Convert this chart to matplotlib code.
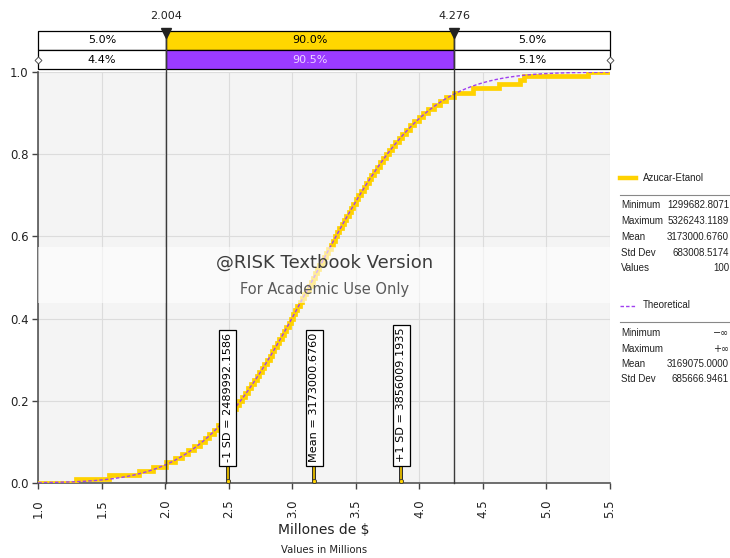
import math
import numpy as np
import matplotlib
matplotlib.use("Agg")
import matplotlib.pyplot as plt
from matplotlib.patches import Rectangle
from matplotlib.lines import Line2D

plt.rcParams['font.family'] = ['DejaVu Sans']

# ---------------- data ----------------
values = [1.300, 1.560, 1.790, 1.900, 2.004, 2.074, 2.131, 2.182, 2.229, 2.271,
          2.310, 2.347, 2.381, 2.413, 2.444, 2.474, 2.502, 2.529, 2.555, 2.580,
          2.605, 2.629, 2.652, 2.675, 2.697, 2.718, 2.739, 2.760, 2.780, 2.800,
          2.820, 2.839, 2.859, 2.878, 2.896, 2.915, 2.933, 2.951, 2.970, 2.988,
          3.005, 3.023, 3.040, 3.057, 3.075, 3.092, 3.110, 3.127, 3.144, 3.161,
          3.179, 3.196, 3.213, 3.230, 3.248, 3.265, 3.283, 3.300, 3.317, 3.335,
          3.352, 3.370, 3.389, 3.407, 3.425, 3.444, 3.462, 3.481, 3.501, 3.520,
          3.540, 3.560, 3.580, 3.601, 3.622, 3.643, 3.665, 3.688, 3.711, 3.735,
          3.760, 3.785, 3.811, 3.838, 3.866, 3.896, 3.927, 3.959, 3.993, 4.030,
          4.069, 4.111, 4.158, 4.209, 4.276, 4.420, 4.630, 4.790, 4.820, 5.326]
theo_mean = 3.169075
theo_std = 0.6856669461
x_ticks = [1.0, 1.5, 2.0, 2.5, 3.0, 3.5, 4.0, 4.5, 5.0, 5.5]
y_ticks = [0.0, 0.2, 0.4, 0.6, 0.8, 1.0]
pct_left = 2.004
pct_right = 4.276
row1_labels = ["5.0%", "90.0%", "5.0%"]
row2_labels = ["4.4%", "90.5%", "5.1%"]
sd_pos = [2.4899921586, 3.1730006760, 3.8560091935]
sd_labels = ["-1 SD = 2489992.1586", "Mean = 3173000.6760", "+1 SD = 3856009.1935"]
sim_name = "Azucar-Etanol"
sim_stats = [("Minimum", "1299682.8071"), ("Maximum", "5326243.1189"),
             ("Mean", "3173000.6760"), ("Std Dev", "683008.5174"), ("Values", "100")]
theo_name = "Theoretical"
theo_stats = [("Minimum", "\u2212\u221e"), ("Maximum", "+\u221e"),
              ("Mean", "3169075.0000"), ("Std Dev", "685666.9461")]

YELLOW = '#FFD200'
PURPLE = '#9B3BFF'
DARK = '#3a3a3a'
LEG_FONT = ['Liberation Sans', 'DejaVu Sans']
LEG_SIZE = 7.0

W, H = 730, 558
fig = plt.figure(figsize=(W / 100, H / 100), dpi=100)
ax = fig.add_axes([38.3 / W, 1 - 483 / H, (610 - 38.3) / W, (483 - 72) / H])
ax.set_facecolor('#F4F4F4')
ax.set_xlim(1.0, 5.5)
ax.set_ylim(0.0, 1.0)

ax.set_xticks(x_ticks)
ax.set_xticklabels([f"{v:.1f}" for v in x_ticks], rotation=90, fontsize=8.5, color='#222')
ax.set_yticks(y_ticks)
ax.set_yticklabels([f"{v:.1f}" for v in y_ticks], fontsize=8.5, color='#222')
ax.tick_params(axis='both', length=4, width=1, color='#444')
ax.tick_params(axis='x', pad=8)
ax.tick_params(axis='y', pad=3)
ax.grid(True, color='#DCDCDC', linewidth=0.8)
ax.set_axisbelow(True)
for s in ['top', 'right']:
    ax.spines[s].set_visible(False)
for s in ['left', 'bottom']:
    ax.spines[s].set_color('#555555')
    ax.spines[s].set_linewidth(1.2)

# empirical CDF
n = len(values)
xs = [1.0] + list(values) + [5.5]
ys = [0.0] + [(i + 1) / n for i in range(n)] + [1.0]
ax.step(xs, ys, where='post', color=YELLOW, linewidth=3.4, zorder=3, solid_joinstyle='miter')

# theoretical normal CDF
xg = np.linspace(1.0, 5.5, 500)
yg = [0.5 * (1 + math.erf((x - theo_mean) / (theo_std * math.sqrt(2)))) for x in xg]
ax.plot(xg, yg, color='#A040F0', linewidth=1.0, linestyle=(0, (2.5, 1.5)), zorder=4)

# watermark band
ax.add_patch(Rectangle((0, 0.438), 1, 0.136, transform=ax.transAxes,
                       facecolor='white', alpha=0.6, edgecolor='none', zorder=5))
ax.text(0.5, 0.535, "@RISK Textbook Version", transform=ax.transAxes, ha='center',
        va='center', fontsize=13, color='#3c3c3c', zorder=6)
ax.text(0.5, 0.470, "For Academic Use Only", transform=ax.transAxes, ha='center',
        va='center', fontsize=10.5, color='#5a5a5a', zorder=6)

# SD markers
for xv, lab in zip(sd_pos, sd_labels):
    ax.plot([xv, xv], [0.0, 0.042], color='black', linewidth=2.6, zorder=7,
            solid_capstyle='butt')
    ax.plot([xv, xv], [0.0, 0.042], color=YELLOW, linewidth=1.2, zorder=8,
            solid_capstyle='butt')
    ax.plot([xv], [0.006], marker='o', markersize=3, color=YELLOW,
            markeredgecolor='#333', markeredgewidth=0.6, zorder=9, clip_on=False)
    ax.text(xv, 0.05, lab, rotation=90, ha='center', va='bottom', fontsize=8.1,
            color='black', zorder=9,
            bbox=dict(boxstyle='square,pad=0.3', facecolor='white',
                      edgecolor='black', linewidth=0.9))

# top percentile strip
tr = ax.get_xaxis_transform()
bounds = [1.0, pct_left, pct_right, 5.5]
r1 = (1.0535, 1.0998)
r2 = (1.0073, 1.0535)
row1_fc = ['white', '#FFD700', 'white']
row2_fc = ['white', PURPLE, 'white']
row2_tc = ['black', '#EBD3FF', 'black']
for i in range(3):
    x0, x1 = bounds[i], bounds[i + 1]
    ax.add_patch(Rectangle((x0, r1[0]), x1 - x0, r1[1] - r1[0], transform=tr,
                           facecolor=row1_fc[i], edgecolor='black', linewidth=0.9,
                           clip_on=False, zorder=10))
    ax.add_patch(Rectangle((x0, r2[0]), x1 - x0, r2[1] - r2[0], transform=tr,
                           facecolor=row2_fc[i], edgecolor='black', linewidth=0.9,
                           clip_on=False, zorder=10))
    ax.text((x0 + x1) / 2, (r1[0] + r1[1]) / 2, row1_labels[i], transform=tr,
            ha='center', va='center', fontsize=8, color='black', zorder=11, clip_on=False)
    ax.text((x0 + x1) / 2, (r2[0] + r2[1]) / 2, row2_labels[i], transform=tr,
            ha='center', va='center', fontsize=8, color=row2_tc[i], zorder=11, clip_on=False)

for xe in [1.0, 5.5]:
    ax.plot([xe], [(r2[0] + r2[1]) / 2], transform=tr, marker='D', markersize=3.5,
            markerfacecolor='white', markeredgecolor='#555', markeredgewidth=0.7,
            clip_on=False, zorder=12)

for xv in [pct_left, pct_right]:
    ax.plot([xv, xv], [0.0, r1[1]], transform=tr, color=DARK, linewidth=1.0,
            clip_on=False, zorder=12)
    ax.plot([xv], [r1[1] - 0.006], transform=tr, marker='v', markersize=7,
            color='#222', clip_on=False, zorder=13)
    ax.text(xv, 1.137, f"{xv:.3f}", transform=tr, ha='center', va='center',
            fontsize=8, color='#222', clip_on=False)

# axis labels
ax.text(0.5, -0.115, "Millones de $", transform=ax.transAxes, ha='center',
        va='center', fontsize=10, color='#222')
ax.text(0.5, -0.163, "Values in Millions", transform=ax.transAxes, ha='center',
        va='center', fontsize=7.2, color='#222')

# right-hand legend panel
def fx(x):
    return x / W

def fy(y):
    return 1 - y / H

fig.add_artist(Line2D([fx(620), fx(636)], [fy(178)] * 2, color=YELLOW, linewidth=3.2))
fig.text(fx(643), fy(178), sim_name, fontsize=LEG_SIZE, va='center', ha='left',
         color='#222', family=LEG_FONT)
fig.add_artist(Line2D([fx(620), fx(735)], [fy(195)] * 2, color='#888', linewidth=0.8))
for k, (lab, val) in enumerate(sim_stats):
    y = 205.5 + k * 15.7
    fig.text(fx(621), fy(y), lab, fontsize=LEG_SIZE, va='center', ha='left',
             color='#222', family=LEG_FONT)
    fig.text(fx(729), fy(y), val, fontsize=LEG_SIZE, va='center', ha='right',
             color='#222', family=LEG_FONT)

fig.add_artist(Line2D([fx(620), fx(636)], [fy(305.5)] * 2, color='#A040F0',
                      linewidth=1.0, linestyle=(0, (2.5, 1.5))))
fig.text(fx(643), fy(305.5), theo_name, fontsize=LEG_SIZE, va='center', ha='left',
         color='#222', family=LEG_FONT)
fig.add_artist(Line2D([fx(620), fx(735)], [fy(321.7)] * 2, color='#888', linewidth=0.8))
for k, (lab, val) in enumerate(theo_stats):
    y = 333.3 + k * 15.4
    fig.text(fx(621), fy(y), lab, fontsize=LEG_SIZE, va='center', ha='left',
             color='#222', family=LEG_FONT)
    fig.text(fx(729), fy(y), val, fontsize=LEG_SIZE, va='center', ha='right',
             color='#222', family=['DejaVu Sans'] if '\u221e' in val else LEG_FONT)

fig.savefig("out.png", dpi=100, facecolor='white')
